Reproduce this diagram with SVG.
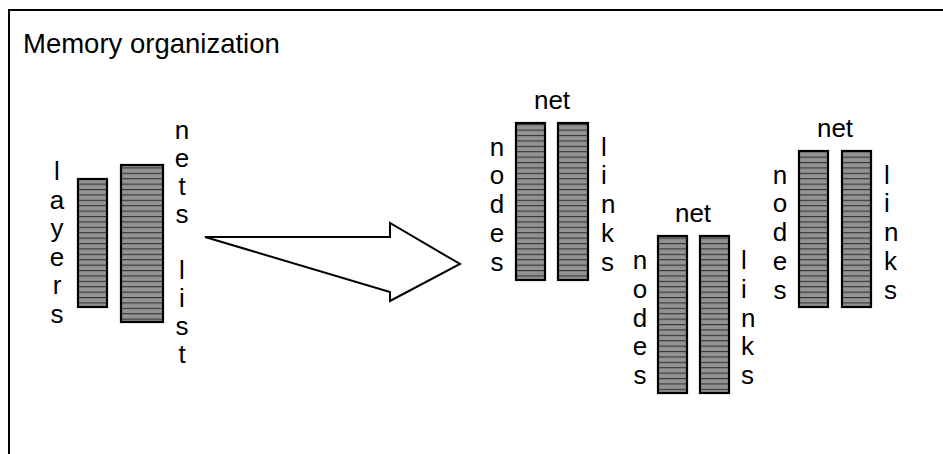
<svg xmlns="http://www.w3.org/2000/svg" width="943" height="454" viewBox="0 0 943 454">
<defs>
<pattern id="stripes" patternUnits="userSpaceOnUse" x="0" y="0" width="10" height="5.4">
<rect x="0" y="0" width="10" height="5.4" fill="#939393"/>
<rect x="0" y="0" width="10" height="1.1" fill="#333333"/>
</pattern>
</defs>
<style>
.t{font-family:"Liberation Sans",Arial,sans-serif;font-size:26px;fill:#000}
.m{text-anchor:middle}
.s{text-anchor:start}
.bar{fill:url(#stripes);stroke:#000;stroke-width:2.2}
.title{font-family:"Liberation Sans",Arial,sans-serif;font-size:27.5px;fill:#000}
</style>
<rect x="9" y="10" width="945" height="460" fill="#fff" stroke="#000" stroke-width="2"/>
<text class="title" x="23" y="53">Memory organization</text>

<g id="layers">
<rect class="bar" x="78" y="179" width="29" height="128"/>
<text class="t m" x="57"><tspan x="57" y="180">l</tspan><tspan x="57" y="208.5">a</tspan><tspan x="57" y="237">y</tspan><tspan x="57" y="265.5">e</tspan><tspan x="57" y="294">r</tspan><tspan x="57" y="322.5">s</tspan></text>
</g>

<g id="nets-list">
<rect class="bar" x="121" y="165" width="42" height="157"/>
<text class="t m" x="182"><tspan x="182" y="139">n</tspan><tspan x="182" y="167">e</tspan><tspan x="182" y="195">t</tspan><tspan x="182" y="223">s</tspan><tspan x="182" y="279">l</tspan><tspan x="182" y="307">i</tspan><tspan x="182" y="335">s</tspan><tspan x="182" y="363">t</tspan></text>
</g>

<g id="connectors">
<polygon points="205,237 390,237 390,223 460,264 390,301 390,292" fill="#fff" stroke="#000" stroke-width="2" stroke-linejoin="miter"/>
</g>

<g id="net1">
<text class="t m" x="552" y="109">net</text>
<rect class="bar" x="516" y="123" width="29" height="157"/>
<rect class="bar" x="558" y="123" width="30" height="157"/>
<text class="t m"><tspan x="497" y="155.5">n</tspan><tspan x="497" y="184.25">o</tspan><tspan x="497" y="213">d</tspan><tspan x="497" y="241.75">e</tspan><tspan x="497" y="270.5">s</tspan></text>
<text class="t s"><tspan x="601" y="155.5">l</tspan><tspan x="601" y="184.25">i</tspan><tspan x="601" y="213">n</tspan><tspan x="601" y="241.75">k</tspan><tspan x="601" y="270.5">s</tspan></text>
</g>

<g id="net2">
<text class="t m" x="693" y="222">net</text>
<rect class="bar" x="658" y="236" width="29" height="157"/>
<rect class="bar" x="700" y="236" width="29" height="157"/>
<text class="t m"><tspan x="640" y="269">n</tspan><tspan x="640" y="297.75">o</tspan><tspan x="640" y="326.5">d</tspan><tspan x="640" y="355.25">e</tspan><tspan x="640" y="384">s</tspan></text>
<text class="t s"><tspan x="741" y="269">l</tspan><tspan x="741" y="297.75">i</tspan><tspan x="741" y="326.5">n</tspan><tspan x="741" y="355.25">k</tspan><tspan x="741" y="384">s</tspan></text>
</g>

<g id="net3">
<text class="t m" x="835" y="137">net</text>
<rect class="bar" x="799" y="151" width="29" height="156"/>
<rect class="bar" x="842" y="151" width="29" height="156"/>
<text class="t m"><tspan x="780" y="183.5">n</tspan><tspan x="780" y="212.25">o</tspan><tspan x="780" y="241">d</tspan><tspan x="780" y="269.75">e</tspan><tspan x="780" y="298.5">s</tspan></text>
<text class="t s"><tspan x="884" y="183.5">l</tspan><tspan x="884" y="212.25">i</tspan><tspan x="884" y="241">n</tspan><tspan x="884" y="269.75">k</tspan><tspan x="884" y="298.5">s</tspan></text>
</g>
</svg>
